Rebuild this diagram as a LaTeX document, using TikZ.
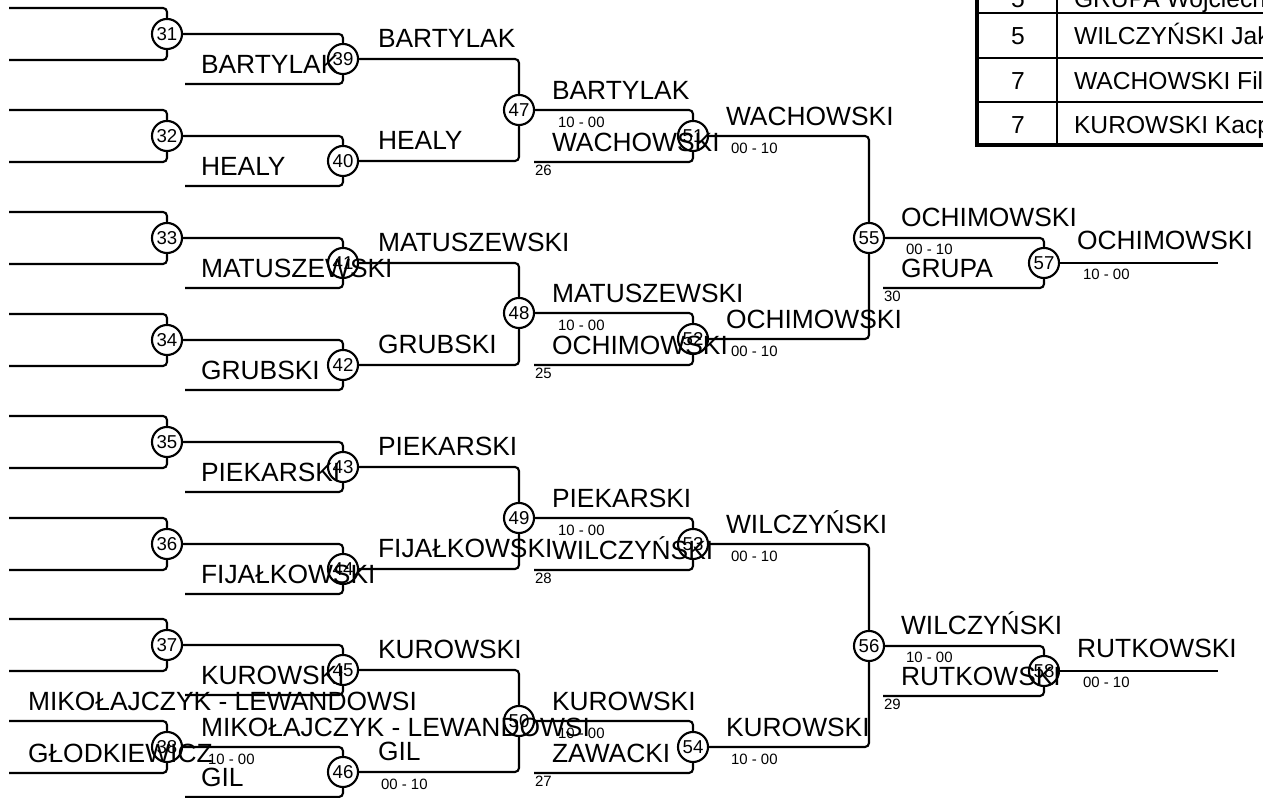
\documentclass[tikz,border=0pt]{standalone}
\usepackage{fontspec}
\setmainfont{Liberation Sans}
\begin{document}
\begin{tikzpicture}[x=0.01cm,y=-0.01cm,line width=0.6pt,
    walka/.style={circle,draw,minimum size=0.3cm,inner sep=0pt,font=\fontsize{5.3}{6}\selectfont},
    linia/.style={rounded corners=0.04cm},
    nazw/.style={anchor=base west,inner sep=0pt,font=\fontsize{7.5}{9}\selectfont},
    wynik/.style={anchor=base west,inner sep=0pt,font=\fontsize{4.25}{5}\selectfont},
    tabl/.style={anchor=base west,inner sep=0pt,font=\fontsize{7}{8}\selectfont}]
  \useasboundingbox (0,0) rectangle (1263,798);
  \foreach \n/\y in {31/34,32/136,33/238,34/340,35/442,36/544,37/645,38/747}{
    \node[walka] (m\n) at (167,\y) {\n};
    \coordinate (g\n) at (9,\y-26);
    \coordinate (d\n) at (9,\y+26);
    \draw[linia] (g\n) -| (m\n.north);
    \draw[linia] (d\n) -| (m\n.south);
  }
  \foreach \n/\a/\y/\naz in {39/31/59/BARTYLAK,40/32/161/HEALY,41/33/263/MATUSZEWSKI,42/34/365/GRUBSKI,
      43/35/467/PIEKARSKI,44/36/569/FIJAŁKOWSKI,45/37/670/KUROWSKI,46/38/772/GIL}{
    \node[walka] (m\n) at (343,\y) {\n};
    \coordinate (d\n) at (185,\y+25);
    \draw[linia] (m\a.east) -| (m\n.north);
    \draw[linia] (d\n) -| (m\n.south);
    \node[nazw] (nd\n) at (200,\y+15) {\naz};
    \node[nazw] (nw\n) at (377,\y-11) {\naz};
  }
  \foreach \n/\a/\b/\y/\naz in {47/39/40/110/BARTYLAK,48/41/42/313/MATUSZEWSKI,49/43/44/518/PIEKARSKI,50/45/46/721/KUROWSKI}{
    \node[walka] (m\n) at (519,\y) {\n};
    \draw[linia] (m\a.east) -| (m\n.north);
    \draw[linia] (m\b.east) -| (m\n.south);
    \node[nazw] (nw\n) at (551,\y-10) {\naz};
    \node[wynik] (s\n) at (557,\y+18) {10 - 00};
  }
  \foreach \n/\a/\y/\zw/\nr/\naz/\wyn in {51/47/136/WACHOWSKI/26/WACHOWSKI/00 - 10,
      52/48/339/OCHIMOWSKI/25/OCHIMOWSKI/00 - 10,
      53/49/544/WILCZYŃSKI/28/WILCZYŃSKI/00 - 10,
      54/50/747/ZAWACKI/27/KUROWSKI/10 - 00}{
    \node[walka] (m\n) at (693,\y) {\n};
    \coordinate (d\n) at (534,\y+26);
    \draw[linia] (m\a.east) -| (m\n.north);
    \draw[linia] (d\n) -| (m\n.south);
    \node[nazw] (nd\n) at (551,\y+16) {\zw};
    \node[wynik] (l\n) at (534,\y+40) {\nr};
    \node[nazw] (nw\n) at (725,\y-10) {\naz};
    \node[wynik] (s\n) at (730,\y+18) {\wyn};
  }
  \foreach \n/\a/\b/\y/\naz/\wyn in {55/51/52/238/OCHIMOWSKI/00 - 10,56/53/54/646/WILCZYŃSKI/10 - 00}{
    \node[walka] (m\n) at (869,\y) {\n};
    \draw[linia] (m\a.east) -| (m\n.north);
    \draw[linia] (m\b.east) -| (m\n.south);
    \node[nazw] (nw\n) at (900,\y-11) {\naz};
    \node[wynik] (s\n) at (905,\y+17) {\wyn};
  }
  \foreach \n/\a/\y/\zw/\nr/\naz/\wyn in {57/55/263/GRUPA/30/OCHIMOWSKI/10 - 00,58/56/671/RUTKOWSKI/29/RUTKOWSKI/00 - 10}{
    \node[walka] (m\n) at (1044,\y) {\n};
    \coordinate (d\n) at (883,\y+25);
    \coordinate (k\n) at (1218,\y);
    \draw[linia] (m\a.east) -| (m\n.north);
    \draw[linia] (d\n) -| (m\n.south);
    \draw (m\n.east) -- (k\n);
    \node[nazw] (nd\n) at (900,\y+15) {\zw};
    \node[wynik] (l\n) at (883,\y+39) {\nr};
    \node[nazw] (nw\n) at (1076,\y-13) {\naz};
    \node[wynik] (s\n) at (1082,\y+17) {\wyn};
  }
  \node[nazw] (ng38) at (27,711) {MIKOŁAJCZYK - LEWANDOWSI};
  \node[nazw] (nd38) at (27,763) {GŁODKIEWICZ};
  \node[nazw] (nw38) at (200,737) {MIKOŁAJCZYK - LEWANDOWSI};
  \node[wynik] (s38) at (207,765) {10 - 00};
  \node[wynik] (s46) at (380,790) {00 - 10};
  \draw[line width=1.4pt] (977,-40) rectangle (1300,145);
  \foreach \yy in {13,58,102} \draw (977,\yy) -- (1300,\yy);
  \draw (1057,-40) -- (1057,145);
  \foreach \k/\yy/\mc/\zaw in {1/8/5/GRUPA Wojciech,2/45/5/WILCZYŃSKI Jakub,3/90/7/WACHOWSKI Filip,4/134/7/KUROWSKI Kacper}{
    \node[tabl,anchor=base] (tm\k) at (1018,\yy) {\mc};
    \node[tabl] (tz\k) at (1073,\yy) {\zaw};
  }
\end{tikzpicture}
\end{document}
